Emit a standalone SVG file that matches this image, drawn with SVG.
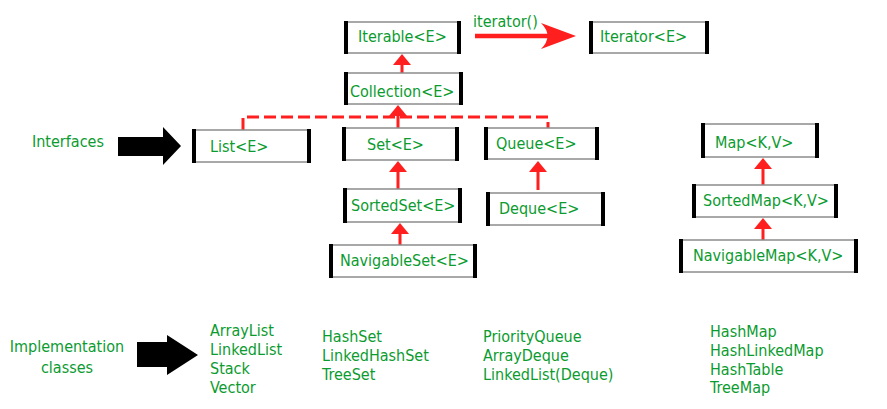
<svg xmlns="http://www.w3.org/2000/svg" width="887" height="409" viewBox="0 0 887 409">
<style>
.t{font-family:"DejaVu Sans Condensed","DejaVu Sans",sans-serif;font-size:16px;fill:#0b9b2f}
.bx{fill:#fff;stroke:#8c8c8c;stroke-width:1.5}
.bar{fill:#000}
.c{stroke:#ff1f1f;stroke-width:3;fill:none}
</style>
<defs>
<marker id="ah" viewBox="0 0 11 18" refX="4" refY="9" markerWidth="11" markerHeight="18" markerUnits="userSpaceOnUse" orient="auto">
<path d="M0,0 L11,9 L0,18 Z" fill="#ff1f1f"/>
</marker>
</defs>
<rect width="887" height="409" fill="#fff"/>
<g id="connectors">
<path class="c" d="M243,130 V117 H548 V128" stroke-width="2.5" stroke-dasharray="12,5"/>
<line class="c" x1="402" y1="73" x2="402" y2="61" marker-end="url(#ah)"/>
<line class="c" x1="398" y1="128" x2="398" y2="112" marker-end="url(#ah)"/>
<line class="c" x1="398" y1="189" x2="398" y2="168" marker-end="url(#ah)"/>
<line class="c" x1="538" y1="190" x2="538" y2="168" marker-end="url(#ah)"/>
<line class="c" x1="400" y1="245" x2="400" y2="230" marker-end="url(#ah)"/>
<line class="c" x1="763" y1="185" x2="763" y2="165" marker-end="url(#ah)"/>
<line class="c" x1="763" y1="240" x2="763" y2="225" marker-end="url(#ah)"/>
<line x1="475" y1="36" x2="552" y2="36" stroke="#ff1f1f" stroke-width="4.5"/>
<path d="M576,36 L541,23 Q554,36 541,49 Z" fill="#ff1f1f"/>
<text class="t" x="473" y="27">iterator()</text>
<polygon points="118,137 163,137 163,127 181,146 163,165 163,156 118,156" fill="#000"/>
<polygon points="137,342 167,342 167,335 198,355 167,375 167,367 137,367" fill="#000"/>
</g>
<g id="iterable">
<rect class="bx" x="345" y="22" width="115" height="31"/>
<rect class="bar" x="344" y="21" width="4" height="33"/><rect class="bar" x="457" y="21" width="4" height="33"/>
<text class="t" x="358" y="42">Iterable&lt;E&gt;</text>
</g>
<g id="iterator">
<rect class="bx" x="590" y="22" width="118" height="31"/>
<rect class="bar" x="589" y="21" width="4" height="33"/><rect class="bar" x="705" y="21" width="4" height="33"/>
<text class="t" x="600" y="42">Iterator&lt;E&gt;</text>
</g>
<g id="collection">
<rect class="bx" x="345" y="73" width="117" height="31"/>
<rect class="bar" x="344" y="72" width="4" height="33"/><rect class="bar" x="459" y="72" width="4" height="33"/>
<text class="t" x="350" y="97">Collection&lt;E&gt;</text>
</g>
<g id="list">
<rect class="bx" x="193" y="130" width="117" height="32"/>
<rect class="bar" x="192" y="129" width="4" height="34"/><rect class="bar" x="307" y="129" width="4" height="34"/>
<text class="t" x="210" y="152">List&lt;E&gt;</text>
</g>
<g id="set">
<rect class="bx" x="343" y="128" width="115" height="32"/>
<rect class="bar" x="342" y="127" width="4" height="34"/><rect class="bar" x="455" y="127" width="4" height="34"/>
<text class="t" x="367" y="150">Set&lt;E&gt;</text>
</g>
<g id="queue">
<rect class="bx" x="485" y="128" width="113" height="31"/>
<rect class="bar" x="484" y="127" width="4" height="33"/><rect class="bar" x="595" y="127" width="4" height="33"/>
<text class="t" x="496" y="149">Queue&lt;E&gt;</text>
</g>
<g id="sortedset">
<rect class="bx" x="344" y="189" width="117" height="33"/>
<rect class="bar" x="343" y="188" width="4" height="35"/><rect class="bar" x="458" y="188" width="4" height="35"/>
<text class="t" x="351" y="211">SortedSet&lt;E&gt;</text>
</g>
<g id="deque">
<rect class="bx" x="487" y="193" width="117" height="32"/>
<rect class="bar" x="486" y="192" width="4" height="34"/><rect class="bar" x="601" y="192" width="4" height="34"/>
<text class="t" x="499" y="214">Deque&lt;E&gt;</text>
</g>
<g id="navigableset">
<rect class="bx" x="330" y="245" width="146" height="32"/>
<rect class="bar" x="329" y="244" width="4" height="34"/><rect class="bar" x="473" y="244" width="4" height="34"/>
<text class="t" x="340" y="266">NavigableSet&lt;E&gt;</text>
</g>
<g id="map">
<rect class="bx" x="702" y="124" width="116" height="33"/>
<rect class="bar" x="701" y="123" width="4" height="35"/><rect class="bar" x="815" y="123" width="4" height="35"/>
<text class="t" x="715" y="148">Map&lt;K,V&gt;</text>
</g>
<g id="sortedmap">
<rect class="bx" x="693" y="185" width="144" height="32"/>
<rect class="bar" x="692" y="184" width="4" height="34"/><rect class="bar" x="834" y="184" width="4" height="34"/>
<text class="t" x="703" y="206">SortedMap&lt;K,V&gt;</text>
</g>
<g id="navigablemap">
<rect class="bx" x="680" y="240" width="177" height="32"/>
<rect class="bar" x="679" y="239" width="4" height="34"/><rect class="bar" x="854" y="239" width="4" height="34"/>
<text class="t" x="693" y="261">NavigableMap&lt;K,V&gt;</text>
</g>
<g id="labels">
<text class="t" x="32" y="147">Interfaces</text>
<text class="t" x="67" y="352" text-anchor="middle">Implementation</text>
<text class="t" x="67" y="373" text-anchor="middle">classes</text>
<text class="t" x="210" y="336">ArrayList</text>
<text class="t" x="210" y="355">LinkedList</text>
<text class="t" x="210" y="374">Stack</text>
<text class="t" x="210" y="393">Vector</text>
<text class="t" x="322" y="342">HashSet</text>
<text class="t" x="322" y="361">LinkedHashSet</text>
<text class="t" x="322" y="380">TreeSet</text>
<text class="t" x="483" y="342">PriorityQueue</text>
<text class="t" x="483" y="361">ArrayDeque</text>
<text class="t" x="483" y="380">LinkedList(Deque)</text>
<text class="t" x="710" y="337">HashMap</text>
<text class="t" x="710" y="356">HashLinkedMap</text>
<text class="t" x="710" y="375">HashTable</text>
<text class="t" x="710" y="393">TreeMap</text>
</g>
</svg>
